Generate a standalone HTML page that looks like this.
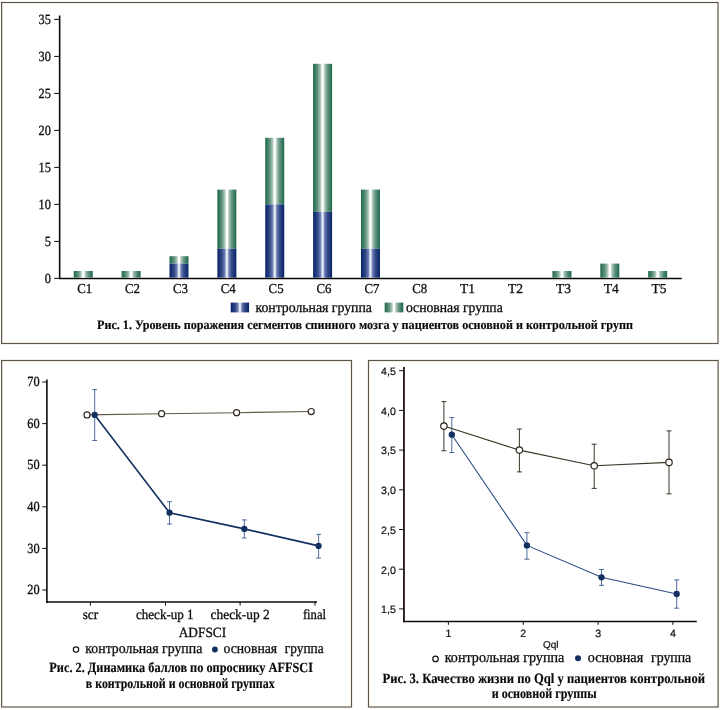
<!DOCTYPE html>
<html lang="ru"><head><meta charset="utf-8"><title>Рис. 1–3</title>
<style>
html,body{margin:0;padding:0;background:#fff;}
body{width:720px;height:710px;overflow:hidden;}
svg{display:block;will-change:transform;}
text{text-rendering:geometricPrecision;}
.se{font-family:'Liberation Serif',serif;fill:#100d0b;stroke:#100d0b;stroke-width:0.3px;}
.sa{font-family:'Liberation Sans',sans-serif;fill:#100d0b;stroke:#100d0b;stroke-width:0.2px;}
.cap{font-family:'Liberation Serif',serif;font-weight:bold;fill:#0b0908;stroke:#0b0908;stroke-width:0.15px;}
</style></head><body>
<svg width="720" height="710" viewBox="0 0 720 710">
<defs>
<linearGradient id="gg" x1="0" y1="0" x2="1" y2="0">
<stop offset="0" stop-color="#1e6749"/><stop offset="0.06" stop-color="#2d7156"/><stop offset="0.25" stop-color="#659682"/><stop offset="0.40" stop-color="#b3cdc1"/><stop offset="0.465" stop-color="#ffffff"/><stop offset="0.535" stop-color="#ffffff"/><stop offset="0.60" stop-color="#b3cdc1"/><stop offset="0.75" stop-color="#659682"/><stop offset="0.94" stop-color="#2d7156"/><stop offset="1" stop-color="#1e6749"/>
</linearGradient>
<linearGradient id="gb" x1="0" y1="0" x2="1" y2="0">
<stop offset="0" stop-color="#06236a"/><stop offset="0.06" stop-color="#102d6d"/><stop offset="0.25" stop-color="#364a8b"/><stop offset="0.40" stop-color="#7486b7"/><stop offset="0.47" stop-color="#e2e7f4"/><stop offset="0.53" stop-color="#e2e7f4"/><stop offset="0.60" stop-color="#7486b7"/><stop offset="0.75" stop-color="#364a8b"/><stop offset="0.94" stop-color="#102d6d"/><stop offset="1" stop-color="#06236a"/>
</linearGradient>
</defs>
<rect x="0" y="0" width="720" height="710" fill="#fff"/>

<rect x="1.6" y="2.5" width="716.4" height="341" fill="none" stroke="#5f5546" stroke-width="1.2"/>
<rect x="1.6" y="360.5" width="349.9" height="346.5" fill="none" stroke="#5f5546" stroke-width="1.2"/>
<rect x="368.5" y="360.5" width="349.6" height="346.5" fill="none" stroke="#5f5546" stroke-width="1.2"/>
<line x1="59.65" y1="15.6" x2="59.65" y2="279.1" stroke="#0c0a09" stroke-width="1.6"/>
<line x1="58.9" y1="278.4" x2="681.8" y2="278.4" stroke="#0c0a09" stroke-width="1.5"/>
<line x1="54.2" y1="278.4" x2="59" y2="278.4" stroke="#0c0a09" stroke-width="1"/>
<text class="se" x="44.8" y="282.6" font-size="14" textLength="6.15" lengthAdjust="spacingAndGlyphs">0</text>
<line x1="54.2" y1="241.4" x2="59" y2="241.4" stroke="#0c0a09" stroke-width="1"/>
<text class="se" x="44.8" y="245.6" font-size="14" textLength="6.15" lengthAdjust="spacingAndGlyphs">5</text>
<line x1="54.2" y1="204.4" x2="59" y2="204.4" stroke="#0c0a09" stroke-width="1"/>
<text class="se" x="38.6" y="208.6" font-size="14" textLength="12.3" lengthAdjust="spacingAndGlyphs">10</text>
<line x1="54.2" y1="167.4" x2="59" y2="167.4" stroke="#0c0a09" stroke-width="1"/>
<text class="se" x="38.6" y="171.6" font-size="14" textLength="12.3" lengthAdjust="spacingAndGlyphs">15</text>
<line x1="54.2" y1="130.4" x2="59" y2="130.4" stroke="#0c0a09" stroke-width="1"/>
<text class="se" x="38.6" y="134.6" font-size="14" textLength="12.3" lengthAdjust="spacingAndGlyphs">20</text>
<line x1="54.2" y1="93.4" x2="59" y2="93.4" stroke="#0c0a09" stroke-width="1"/>
<text class="se" x="38.6" y="97.6" font-size="14" textLength="12.3" lengthAdjust="spacingAndGlyphs">25</text>
<line x1="54.2" y1="56.4" x2="59" y2="56.4" stroke="#0c0a09" stroke-width="1"/>
<text class="se" x="38.6" y="60.6" font-size="14" textLength="12.3" lengthAdjust="spacingAndGlyphs">30</text>
<line x1="54.2" y1="19.4" x2="59" y2="19.4" stroke="#0c0a09" stroke-width="1"/>
<text class="se" x="38.6" y="23.6" font-size="14" textLength="12.3" lengthAdjust="spacingAndGlyphs">35</text>
<rect x="73.75" y="271.0" width="19.0" height="6.7" fill="url(#gg)"/>
<text class="se" x="77.2" y="292.9" font-size="13.6" textLength="15" lengthAdjust="spacingAndGlyphs">C1</text>
<rect x="121.62" y="271.0" width="19.0" height="6.7" fill="url(#gg)"/>
<text class="se" x="125.0" y="292.9" font-size="13.6" textLength="15" lengthAdjust="spacingAndGlyphs">C2</text>
<rect x="169.49" y="256.2" width="19.0" height="7.4" fill="url(#gg)"/>
<rect x="169.49" y="263.6" width="19.0" height="14.1" fill="url(#gb)"/>
<text class="se" x="172.9" y="292.9" font-size="13.6" textLength="15" lengthAdjust="spacingAndGlyphs">C3</text>
<rect x="217.36" y="189.6" width="19.0" height="59.2" fill="url(#gg)"/>
<rect x="217.36" y="248.8" width="19.0" height="28.9" fill="url(#gb)"/>
<text class="se" x="220.8" y="292.9" font-size="13.6" textLength="15" lengthAdjust="spacingAndGlyphs">C4</text>
<rect x="265.23" y="137.8" width="19.0" height="66.6" fill="url(#gg)"/>
<rect x="265.23" y="204.4" width="19.0" height="73.3" fill="url(#gb)"/>
<text class="se" x="268.6" y="292.9" font-size="13.6" textLength="15" lengthAdjust="spacingAndGlyphs">C5</text>
<rect x="313.10" y="63.8" width="19.0" height="148.0" fill="url(#gg)"/>
<rect x="313.10" y="211.8" width="19.0" height="65.9" fill="url(#gb)"/>
<text class="se" x="316.5" y="292.9" font-size="13.6" textLength="15" lengthAdjust="spacingAndGlyphs">C6</text>
<rect x="360.97" y="189.6" width="19.0" height="59.2" fill="url(#gg)"/>
<rect x="360.97" y="248.8" width="19.0" height="28.9" fill="url(#gb)"/>
<text class="se" x="364.4" y="292.9" font-size="13.6" textLength="15" lengthAdjust="spacingAndGlyphs">C7</text>
<text class="se" x="412.2" y="292.9" font-size="13.6" textLength="15" lengthAdjust="spacingAndGlyphs">C8</text>
<text class="se" x="460.1" y="292.9" font-size="13.6" textLength="15" lengthAdjust="spacingAndGlyphs">T1</text>
<text class="se" x="508.0" y="292.9" font-size="13.6" textLength="15" lengthAdjust="spacingAndGlyphs">T2</text>
<rect x="552.45" y="271.0" width="19.0" height="6.7" fill="url(#gg)"/>
<text class="se" x="555.9" y="292.9" font-size="13.6" textLength="15" lengthAdjust="spacingAndGlyphs">T3</text>
<rect x="600.32" y="263.6" width="19.0" height="14.1" fill="url(#gg)"/>
<text class="se" x="603.7" y="292.9" font-size="13.6" textLength="15" lengthAdjust="spacingAndGlyphs">T4</text>
<rect x="648.19" y="271.0" width="19.0" height="6.7" fill="url(#gg)"/>
<text class="se" x="651.6" y="292.9" font-size="13.6" textLength="15" lengthAdjust="spacingAndGlyphs">T5</text>
<rect x="230.7" y="302.6" width="18.4" height="9.8" fill="url(#gb)"/>
<text class="se" x="255.4" y="312.0" font-size="14.4" textLength="116.6" lengthAdjust="spacingAndGlyphs">контрольная группа</text>
<rect x="384.7" y="302.6" width="18.6" height="9.8" fill="url(#gg)"/>
<text class="se" x="405.9" y="312.0" font-size="14.4" textLength="96.9" lengthAdjust="spacingAndGlyphs">основная группа</text>
<text class="cap" x="97.0" y="329.0" font-size="13" textLength="536" lengthAdjust="spacingAndGlyphs">Рис. 1. Уровень поражения сегментов спинного мозга у пациентов основной и контрольной групп</text>
<line x1="46.9" y1="379.5" x2="46.9" y2="602.9" stroke="#0c0a09" stroke-width="1.6"/>
<line x1="46.1" y1="602.1" x2="317" y2="602.1" stroke="#0c0a09" stroke-width="1.5"/>
<line x1="42.3" y1="590.0" x2="46.5" y2="590.0" stroke="#0c0a09" stroke-width="1"/>
<text class="se" x="27.3" y="594.2" font-size="14" textLength="12.3" lengthAdjust="spacingAndGlyphs">20</text>
<line x1="42.3" y1="548.4" x2="46.5" y2="548.4" stroke="#0c0a09" stroke-width="1"/>
<text class="se" x="27.3" y="552.6" font-size="14" textLength="12.3" lengthAdjust="spacingAndGlyphs">30</text>
<line x1="42.3" y1="506.8" x2="46.5" y2="506.8" stroke="#0c0a09" stroke-width="1"/>
<text class="se" x="27.3" y="511.0" font-size="14" textLength="12.3" lengthAdjust="spacingAndGlyphs">40</text>
<line x1="42.3" y1="465.2" x2="46.5" y2="465.2" stroke="#0c0a09" stroke-width="1"/>
<text class="se" x="27.3" y="469.4" font-size="14" textLength="12.3" lengthAdjust="spacingAndGlyphs">50</text>
<line x1="42.3" y1="423.6" x2="46.5" y2="423.6" stroke="#0c0a09" stroke-width="1"/>
<text class="se" x="27.3" y="427.8" font-size="14" textLength="12.3" lengthAdjust="spacingAndGlyphs">60</text>
<line x1="42.3" y1="382.0" x2="46.5" y2="382.0" stroke="#0c0a09" stroke-width="1"/>
<text class="se" x="27.3" y="386.2" font-size="14" textLength="12.3" lengthAdjust="spacingAndGlyphs">70</text>
<line x1="90.4" y1="602" x2="90.4" y2="605.6" stroke="#0c0a09" stroke-width="1"/>
<line x1="165.5" y1="602" x2="165.5" y2="605.6" stroke="#0c0a09" stroke-width="1"/>
<line x1="240.1" y1="602" x2="240.1" y2="605.6" stroke="#0c0a09" stroke-width="1"/>
<line x1="315" y1="602" x2="315" y2="605.6" stroke="#0c0a09" stroke-width="1"/>
<polyline points="87,414.9 161.6,413.7 236.6,412.7 311.2,411.5" fill="none" stroke="#615848" stroke-width="1.1"/>
<path d="M94.7 389.6V440.5M92.3 389.6H97.10000000000001M92.3 440.5H97.10000000000001" fill="none" stroke="#3b5b92" stroke-width="0.9"/>
<path d="M169.5 501.7V524.1M167.1 501.7H171.9M167.1 524.1H171.9" fill="none" stroke="#3b5b92" stroke-width="0.9"/>
<path d="M244.3 519.9V538M241.9 519.9H246.70000000000002M241.9 538H246.70000000000002" fill="none" stroke="#3b5b92" stroke-width="0.9"/>
<path d="M318.6 534.4V558.1M316.20000000000005 534.4H321.0M316.20000000000005 558.1H321.0" fill="none" stroke="#3b5b92" stroke-width="0.9"/>
<polyline points="94.7,414.9 169.5,512.7 244.3,528.9 318.6,545.9" fill="none" stroke="#12305f" stroke-width="1.6"/>
<circle cx="87" cy="414.9" r="3.05" fill="#fff" stroke="#2e281f" stroke-width="1.15"/>
<circle cx="161.6" cy="413.7" r="3.05" fill="#fff" stroke="#2e281f" stroke-width="1.15"/>
<circle cx="236.6" cy="412.7" r="3.05" fill="#fff" stroke="#2e281f" stroke-width="1.15"/>
<circle cx="311.2" cy="411.5" r="3.05" fill="#fff" stroke="#2e281f" stroke-width="1.15"/>
<circle cx="94.7" cy="414.9" r="3.1" fill="#12305f"/>
<circle cx="169.5" cy="512.7" r="3.1" fill="#12305f"/>
<circle cx="244.3" cy="528.9" r="3.1" fill="#12305f"/>
<circle cx="318.6" cy="545.9" r="3.1" fill="#12305f"/>
<text class="se" x="82.7" y="619.2" font-size="14" textLength="15.5" lengthAdjust="spacingAndGlyphs">scr</text>
<text class="se" x="136.0" y="619.2" font-size="14" textLength="57.6" lengthAdjust="spacingAndGlyphs">check-up 1</text>
<text class="se" x="210.6" y="619.2" font-size="14" textLength="59" lengthAdjust="spacingAndGlyphs">check-up 2</text>
<text class="se" x="302.9" y="619.2" font-size="14" textLength="23.2" lengthAdjust="spacingAndGlyphs">final</text>
<text class="se" x="178.7" y="637.2" font-size="14" textLength="47.5" lengthAdjust="spacingAndGlyphs">ADFSCI</text>
<circle cx="76" cy="649.6" r="2.7" fill="#fff" stroke="#1a1612" stroke-width="1.2"/>
<text class="se" x="85.3" y="653.3" font-size="14.6" textLength="117" lengthAdjust="spacingAndGlyphs">контрольная группа</text>
<circle cx="214.9" cy="649.5" r="2.9" fill="#12305f"/>
<text class="se" x="223.5" y="653.3" font-size="14.6" textLength="53.6" lengthAdjust="spacingAndGlyphs">основная</text>
<text class="se" x="284.8" y="653.3" font-size="14.6" textLength="38.9" lengthAdjust="spacingAndGlyphs">группа</text>
<text class="cap" x="49.3" y="672.1" font-size="14" textLength="263.7" lengthAdjust="spacingAndGlyphs">Рис. 2. Динамика баллов по опроснику AFFSCI</text>
<text class="cap" x="85.8" y="688.3" font-size="14" textLength="188.8" lengthAdjust="spacingAndGlyphs">в контрольной и основной группах</text>
<line x1="403.95" y1="367.1" x2="403.95" y2="622.3" stroke="#160c08" stroke-width="1.75"/>
<line x1="403" y1="621.4" x2="696.8" y2="621.4" stroke="#160c08" stroke-width="1.55"/>
<line x1="399.1" y1="608.9" x2="403.5" y2="608.9" stroke="#160c08" stroke-width="1"/>
<text class="sa" x="395.8" y="613.2" font-size="10.6" text-anchor="end" stroke="#15110e" stroke-width="0.25">1,5</text>
<line x1="399.1" y1="569.2" x2="403.5" y2="569.2" stroke="#160c08" stroke-width="1"/>
<text class="sa" x="395.8" y="573.5" font-size="10.6" text-anchor="end" stroke="#15110e" stroke-width="0.25">2,0</text>
<line x1="399.1" y1="529.5" x2="403.5" y2="529.5" stroke="#160c08" stroke-width="1"/>
<text class="sa" x="395.8" y="533.8" font-size="10.6" text-anchor="end" stroke="#15110e" stroke-width="0.25">2,5</text>
<line x1="399.1" y1="489.8" x2="403.5" y2="489.8" stroke="#160c08" stroke-width="1"/>
<text class="sa" x="395.8" y="494.1" font-size="10.6" text-anchor="end" stroke="#15110e" stroke-width="0.25">3,0</text>
<line x1="399.1" y1="450.1" x2="403.5" y2="450.1" stroke="#160c08" stroke-width="1"/>
<text class="sa" x="395.8" y="454.4" font-size="10.6" text-anchor="end" stroke="#15110e" stroke-width="0.25">3,5</text>
<line x1="399.1" y1="410.4" x2="403.5" y2="410.4" stroke="#160c08" stroke-width="1"/>
<text class="sa" x="395.8" y="414.7" font-size="10.6" text-anchor="end" stroke="#15110e" stroke-width="0.25">4,0</text>
<line x1="399.1" y1="370.7" x2="403.5" y2="370.7" stroke="#160c08" stroke-width="1"/>
<text class="sa" x="395.8" y="375.0" font-size="10.6" text-anchor="end" stroke="#15110e" stroke-width="0.25">4,5</text>
<line x1="448.4" y1="621.4" x2="448.4" y2="624.8" stroke="#160c08" stroke-width="1"/>
<text class="sa" x="448.4" y="636.9" font-size="10.6" text-anchor="middle" stroke="#15110e" stroke-width="0.2">1</text>
<line x1="523.3" y1="621.4" x2="523.3" y2="624.8" stroke="#160c08" stroke-width="1"/>
<text class="sa" x="523.3" y="636.9" font-size="10.6" text-anchor="middle" stroke="#15110e" stroke-width="0.2">2</text>
<line x1="598.1" y1="621.4" x2="598.1" y2="624.8" stroke="#160c08" stroke-width="1"/>
<text class="sa" x="598.1" y="636.9" font-size="10.6" text-anchor="middle" stroke="#15110e" stroke-width="0.2">3</text>
<line x1="672.9" y1="621.4" x2="672.9" y2="624.8" stroke="#160c08" stroke-width="1"/>
<text class="sa" x="672.9" y="636.9" font-size="10.6" text-anchor="middle" stroke="#15110e" stroke-width="0.2">4</text>
<text class="sa" x="550.7" y="647.6" font-size="10" text-anchor="middle">Qql</text>
<path d="M443.9 401.6V450.8M441.4 401.6H446.4M441.4 450.8H446.4" fill="none" stroke="#3d3427" stroke-width="1"/>
<path d="M519.4 429V471.9M516.9 429H521.9M516.9 471.9H521.9" fill="none" stroke="#3d3427" stroke-width="1"/>
<path d="M594.2 444.2V488.4M591.7 444.2H596.7M591.7 488.4H596.7" fill="none" stroke="#3d3427" stroke-width="1"/>
<path d="M669 430.9V493.9M666.5 430.9H671.5M666.5 493.9H671.5" fill="none" stroke="#3d3427" stroke-width="1"/>
<path d="M451.8 417.6V452.5M449.3 417.6H454.3M449.3 452.5H454.3" fill="none" stroke="#3b5b92" stroke-width="0.9"/>
<path d="M526.9 532.7V559.2M524.4 532.7H529.4M524.4 559.2H529.4" fill="none" stroke="#3b5b92" stroke-width="0.9"/>
<path d="M601.5 569.5V585.4M599.0 569.5H604.0M599.0 585.4H604.0" fill="none" stroke="#3b5b92" stroke-width="0.9"/>
<path d="M676.7 579.9V608.2M674.2 579.9H679.2M674.2 608.2H679.2" fill="none" stroke="#3b5b92" stroke-width="0.9"/>
<polyline points="443.9,426.1 519.4,450.1 594.2,465.8 669,462.4" fill="none" stroke="#3d3427" stroke-width="1.1"/>
<polyline points="451.8,434.7 526.9,545.4 601.5,577.3 676.7,594" fill="none" stroke="#2c4c88" stroke-width="1.1"/>
<circle cx="443.9" cy="426.1" r="3.2" fill="#fff" stroke="#2a241c" stroke-width="1.15"/>
<circle cx="519.4" cy="450.1" r="3.2" fill="#fff" stroke="#2a241c" stroke-width="1.15"/>
<circle cx="594.2" cy="465.8" r="3.2" fill="#fff" stroke="#2a241c" stroke-width="1.15"/>
<circle cx="669" cy="462.4" r="3.2" fill="#fff" stroke="#2a241c" stroke-width="1.15"/>
<circle cx="451.8" cy="434.7" r="3.15" fill="#12305f"/>
<circle cx="526.9" cy="545.4" r="3.15" fill="#12305f"/>
<circle cx="601.5" cy="577.3" r="3.15" fill="#12305f"/>
<circle cx="676.7" cy="594" r="3.15" fill="#12305f"/>
<circle cx="435.5" cy="658.9" r="2.75" fill="#fff" stroke="#1a1612" stroke-width="1.2"/>
<text class="se" x="444.7" y="661.7" font-size="14.8" textLength="119.6" lengthAdjust="spacingAndGlyphs">контрольная группа</text>
<circle cx="578" cy="658.3" r="3" fill="#12305f"/>
<text class="se" x="587.7" y="661.7" font-size="14.8" textLength="55.5" lengthAdjust="spacingAndGlyphs">основная</text>
<text class="se" x="651.0" y="661.7" font-size="14.8" textLength="40.2" lengthAdjust="spacingAndGlyphs">группа</text>
<text class="cap" x="382.6" y="682.5" font-size="14.2" textLength="322.4" lengthAdjust="spacingAndGlyphs">Рис. 3. Качество жизни по Qql у пациентов контрольной</text>
<text class="cap" x="491.7" y="697.8" font-size="14" textLength="105" lengthAdjust="spacingAndGlyphs">и основной группы</text>
</svg>
</body></html>
